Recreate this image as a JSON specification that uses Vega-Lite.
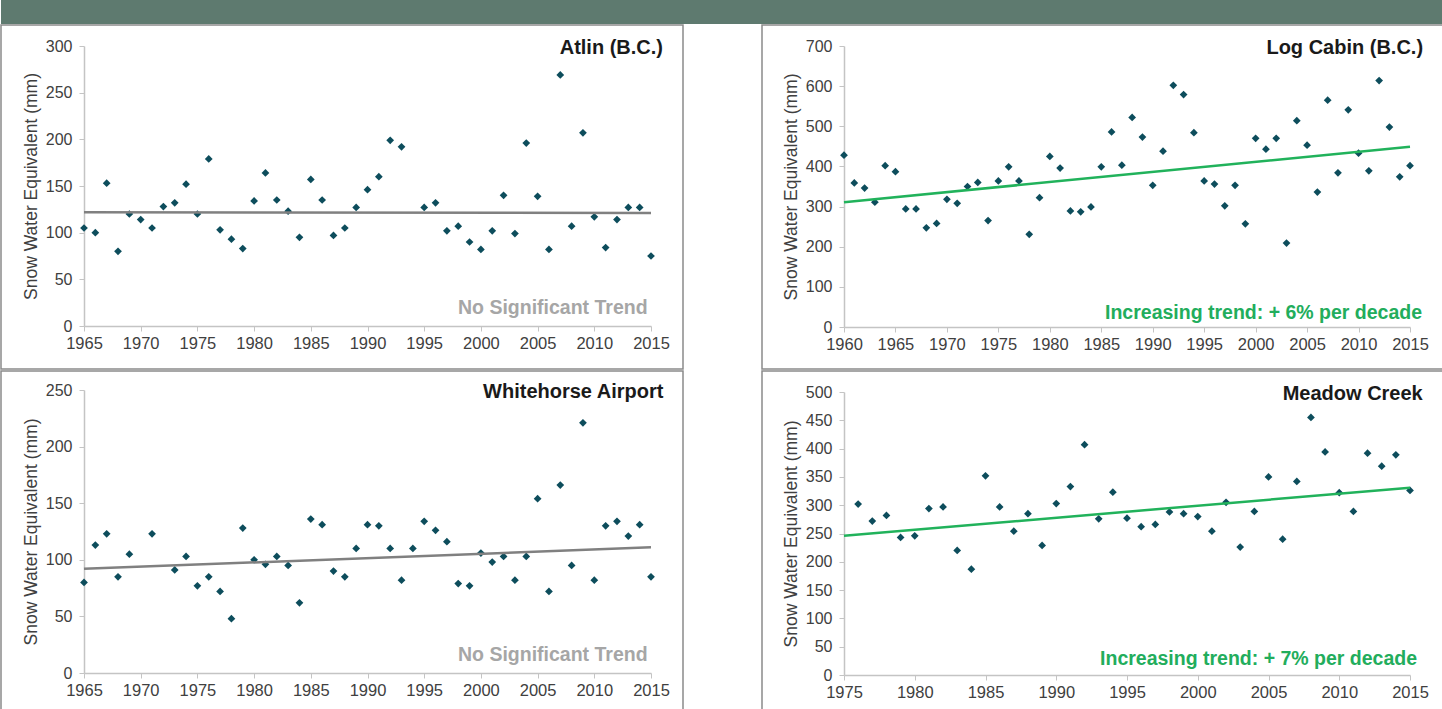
{
  "$schema": "https://vega.github.io/schema/vega-lite/v6.json",
  "padding": 0,
  "background": "white",
  "spacing": 0,
  "config": {
    "view": {"stroke": "#8a8a8a", "strokeWidth": 1.5},
    "font": "Liberation Sans",
    "axis": {
      "grid": false,
      "domainColor": "#c4c4c4",
      "domainWidth": 1.5,
      "tickColor": "#c4c4c4",
      "tickSize": 5,
      "labelFont": "Liberation Sans",
      "labelFontSize": 16.5,
      "labelColor": "#404040",
      "labelFlush": false,
      "labelOverlap": false,
      "labelBound": false,
      "titleFont": "Liberation Sans",
      "titleFontSize": 17.5,
      "titleFontWeight": "normal",
      "titleColor": "#404040"
    },
    "axisX": {"labelPadding": 4},
    "axisY": {"labelPadding": 7, "labelFontSize": 16}
  },
  "datasets": {
    "atlin": [
      {"year":1965,"swe":105},{"year":1966,"swe":100},{"year":1967,"swe":153},{"year":1968,"swe":80},{"year":1969,"swe":120},{"year":1970,"swe":114},{"year":1971,"swe":105},{"year":1972,"swe":128},{"year":1973,"swe":132},{"year":1974,"swe":152},{"year":1975,"swe":120},{"year":1976,"swe":179},{"year":1977,"swe":103},{"year":1978,"swe":93},{"year":1979,"swe":83},{"year":1980,"swe":134},{"year":1981,"swe":164},{"year":1982,"swe":135},{"year":1983,"swe":123},{"year":1984,"swe":95},{"year":1985,"swe":157},{"year":1986,"swe":135},{"year":1987,"swe":97},{"year":1988,"swe":105},{"year":1989,"swe":127},{"year":1990,"swe":146},{"year":1991,"swe":160},{"year":1992,"swe":199},{"year":1993,"swe":192},{"year":1995,"swe":127},{"year":1996,"swe":132},{"year":1997,"swe":102},{"year":1998,"swe":107},{"year":1999,"swe":90},{"year":2000,"swe":82},{"year":2001,"swe":102},{"year":2002,"swe":140},{"year":2003,"swe":99},{"year":2004,"swe":196},{"year":2005,"swe":139},{"year":2006,"swe":82},{"year":2007,"swe":269},{"year":2008,"swe":107},{"year":2009,"swe":207},{"year":2010,"swe":117},{"year":2011,"swe":84},{"year":2012,"swe":114},{"year":2013,"swe":127},{"year":2014,"swe":127},{"year":2015,"swe":75}
    ],
    "atlin_trend": [{"year":1965,"swe":122},{"year":2015,"swe":121}],
    "logcabin": [
      {"year":1960,"swe":428},{"year":1961,"swe":359},{"year":1962,"swe":346},{"year":1963,"swe":311},{"year":1964,"swe":402},{"year":1965,"swe":387},{"year":1966,"swe":294},{"year":1967,"swe":294},{"year":1968,"swe":247},{"year":1969,"swe":258},{"year":1970,"swe":318},{"year":1971,"swe":308},{"year":1972,"swe":350},{"year":1973,"swe":360},{"year":1974,"swe":265},{"year":1975,"swe":364},{"year":1976,"swe":399},{"year":1977,"swe":364},{"year":1978,"swe":231},{"year":1979,"swe":322},{"year":1980,"swe":425},{"year":1981,"swe":396},{"year":1982,"swe":289},{"year":1983,"swe":287},{"year":1984,"swe":299},{"year":1985,"swe":399},{"year":1986,"swe":486},{"year":1987,"swe":403},{"year":1988,"swe":522},{"year":1989,"swe":473},{"year":1990,"swe":353},{"year":1991,"swe":438},{"year":1992,"swe":602},{"year":1993,"swe":579},{"year":1994,"swe":484},{"year":1995,"swe":364},{"year":1996,"swe":356},{"year":1997,"swe":302},{"year":1998,"swe":353},{"year":1999,"swe":257},{"year":2000,"swe":470},{"year":2001,"swe":443},{"year":2002,"swe":470},{"year":2003,"swe":209},{"year":2004,"swe":514},{"year":2005,"swe":453},{"year":2006,"swe":336},{"year":2007,"swe":565},{"year":2008,"swe":384},{"year":2009,"swe":541},{"year":2010,"swe":433},{"year":2011,"swe":389},{"year":2012,"swe":614},{"year":2013,"swe":498},{"year":2014,"swe":374},{"year":2015,"swe":402}
    ],
    "logcabin_trend": [{"year":1960,"swe":311},{"year":2015,"swe":449}],
    "whitehorse": [
      {"year":1965,"swe":80},{"year":1966,"swe":113},{"year":1967,"swe":123},{"year":1968,"swe":85},{"year":1969,"swe":105},{"year":1971,"swe":123},{"year":1973,"swe":91},{"year":1974,"swe":103},{"year":1975,"swe":77},{"year":1976,"swe":85},{"year":1977,"swe":72},{"year":1978,"swe":48},{"year":1979,"swe":128},{"year":1980,"swe":100},{"year":1981,"swe":96},{"year":1982,"swe":103},{"year":1983,"swe":95},{"year":1984,"swe":62},{"year":1985,"swe":136},{"year":1986,"swe":131},{"year":1987,"swe":90},{"year":1988,"swe":85},{"year":1989,"swe":110},{"year":1990,"swe":131},{"year":1991,"swe":130},{"year":1992,"swe":110},{"year":1993,"swe":82},{"year":1994,"swe":110},{"year":1995,"swe":134},{"year":1996,"swe":126},{"year":1997,"swe":116},{"year":1998,"swe":79},{"year":1999,"swe":77},{"year":2000,"swe":106},{"year":2001,"swe":98},{"year":2002,"swe":103},{"year":2003,"swe":82},{"year":2004,"swe":103},{"year":2005,"swe":154},{"year":2006,"swe":72},{"year":2007,"swe":166},{"year":2008,"swe":95},{"year":2009,"swe":221},{"year":2010,"swe":82},{"year":2011,"swe":130},{"year":2012,"swe":134},{"year":2013,"swe":121},{"year":2014,"swe":131},{"year":2015,"swe":85}
    ],
    "whitehorse_trend": [{"year":1965,"swe":92},{"year":2015,"swe":111}],
    "meadow": [
      {"year":1976,"swe":302},{"year":1977,"swe":272},{"year":1978,"swe":282},{"year":1979,"swe":243},{"year":1980,"swe":246},{"year":1981,"swe":294},{"year":1982,"swe":297},{"year":1983,"swe":220},{"year":1984,"swe":187},{"year":1985,"swe":352},{"year":1986,"swe":297},{"year":1987,"swe":254},{"year":1988,"swe":285},{"year":1989,"swe":229},{"year":1990,"swe":303},{"year":1991,"swe":333},{"year":1992,"swe":407},{"year":1993,"swe":276},{"year":1994,"swe":323},{"year":1995,"swe":277},{"year":1996,"swe":262},{"year":1997,"swe":266},{"year":1998,"swe":288},{"year":1999,"swe":285},{"year":2000,"swe":280},{"year":2001,"swe":254},{"year":2002,"swe":305},{"year":2003,"swe":226},{"year":2004,"swe":289},{"year":2005,"swe":350},{"year":2006,"swe":240},{"year":2007,"swe":342},{"year":2008,"swe":455},{"year":2009,"swe":394},{"year":2010,"swe":322},{"year":2011,"swe":289},{"year":2012,"swe":392},{"year":2013,"swe":369},{"year":2014,"swe":389},{"year":2015,"swe":326}
    ],
    "meadow_trend": [{"year":1975,"swe":246},{"year":2015,"swe":331}],
    "header": [{"band":"header"}]
  },
  "vconcat": [
    {
      "width": 1442,
      "height": 24,
      "view": {"fill": "#5e7a6f", "stroke": null},
      "data": {"name": "header"},
      "mark": {"type": "rect", "color": "#5e7a6f"},
      "encoding": {}
    },
    {
      "hconcat": [
        {
          "width": 682,
          "height": 344,
          "layer": [
            {
              "data": {"name": "atlin"},
              "mark": {"type": "point", "shape": "diamond", "filled": true, "size": 60, "color": "#0d4d5c", "opacity": 1},
              "encoding": {
                "x": {"field": "year", "type": "quantitative", "scale": {"domain": [1965, 2015], "range": [83, 650]},
                      "axis": {"values": [1965,1970,1975,1980,1985,1990,1995,2000,2005,2010,2015], "format": "d", "title": null, "offset": -43, "labelOverlap": false}},
                "y": {"field": "swe", "type": "quantitative", "scale": {"domain": [0, 300], "range": [301, 21], "nice": false},
                      "axis": {"values": [0,50,100,150,200,250,300], "title": "Snow Water Equivalent (mm)", "offset": -83, "titlePadding": 5, "labelOverlap": false}}
              }
            },
            {
              "data": {"name": "atlin_trend"},
              "mark": {"type": "line", "color": "#808080", "strokeWidth": 2.5},
              "encoding": {"x": {"field": "year", "type": "quantitative"}, "y": {"field": "swe", "type": "quantitative"}}
            },
            {
              "data": {"name": "header"},
              "mark": {"type": "text", "text": "Atlin (B.C.)", "align": "right", "baseline": "middle", "fontSize": 20, "fontWeight": "bold", "color": "#1a1a1a"},
              "encoding": {"x": {"datum": 2016.06}, "y": {"datum": 298}}
            },
            {
              "data": {"name": "header"},
              "mark": {"type": "text", "text": "No Significant Trend", "align": "right", "baseline": "middle", "fontSize": 19.5, "fontWeight": "bold", "color": "#a6a6a6"},
              "encoding": {"x": {"datum": 2014.7}, "y": {"datum": 19.3}}
            }
          ]
        },
        {
          "width": 681,
          "height": 344,
          "layer": [
            {
              "data": {"name": "logcabin"},
              "mark": {"type": "point", "shape": "diamond", "filled": true, "size": 60, "color": "#0d4d5c", "opacity": 1},
              "encoding": {
                "x": {"field": "year", "type": "quantitative", "scale": {"domain": [1960, 2015], "range": [82, 648]},
                      "axis": {"values": [1960,1965,1970,1975,1980,1985,1990,1995,2000,2005,2010,2015], "format": "d", "title": null, "offset": -42, "labelOverlap": false}},
                "y": {"field": "swe", "type": "quantitative", "scale": {"domain": [0, 700], "range": [302, 21], "nice": false},
                      "axis": {"values": [0,100,200,300,400,500,600,700], "title": "Snow Water Equivalent (mm)", "offset": -82, "titlePadding": 5, "labelOverlap": false}}
              }
            },
            {
              "data": {"name": "logcabin_trend"},
              "mark": {"type": "line", "color": "#21b25b", "strokeWidth": 2.5},
              "encoding": {"x": {"field": "year", "type": "quantitative"}, "y": {"field": "swe", "type": "quantitative"}}
            },
            {
              "data": {"name": "header"},
              "mark": {"type": "text", "text": "Log Cabin (B.C.)", "align": "right", "baseline": "middle", "fontSize": 20, "fontWeight": "bold", "color": "#1a1a1a"},
              "encoding": {"x": {"datum": 2016.27}, "y": {"datum": 695}}
            },
            {
              "data": {"name": "header"},
              "mark": {"type": "text", "text": "Increasing trend: + 6%  per decade", "align": "right", "baseline": "middle", "fontSize": 19.5, "fontWeight": "bold", "color": "#22ad5c"},
              "encoding": {"x": {"datum": 2016.17}, "y": {"datum": 35}}
            }
          ]
        }
      ],
      "spacing": 79,
      "bounds": "flush"
    },
    {
      "hconcat": [
        {
          "width": 682,
          "height": 341,
          "layer": [
            {
              "data": {"name": "whitehorse"},
              "mark": {"type": "point", "shape": "diamond", "filled": true, "size": 60, "color": "#0d4d5c", "opacity": 1},
              "encoding": {
                "x": {"field": "year", "type": "quantitative", "scale": {"domain": [1965, 2015], "range": [83, 650]},
                      "axis": {"values": [1965,1970,1975,1980,1985,1990,1995,2000,2005,2010,2015], "format": "d", "title": null, "offset": -39, "labelOverlap": false}},
                "y": {"field": "swe", "type": "quantitative", "scale": {"domain": [0, 250], "range": [302, 19], "nice": false},
                      "axis": {"values": [0,50,100,150,200,250], "title": "Snow Water Equivalent (mm)", "offset": -83, "titlePadding": 5, "labelOverlap": false}}
              }
            },
            {
              "data": {"name": "whitehorse_trend"},
              "mark": {"type": "line", "color": "#808080", "strokeWidth": 2.5},
              "encoding": {"x": {"field": "year", "type": "quantitative"}, "y": {"field": "swe", "type": "quantitative"}}
            },
            {
              "data": {"name": "header"},
              "mark": {"type": "text", "text": "Whitehorse Airport", "align": "right", "baseline": "middle", "fontSize": 20, "fontWeight": "bold", "color": "#1a1a1a"},
              "encoding": {"x": {"datum": 2016.1}, "y": {"datum": 248}}
            },
            {
              "data": {"name": "header"},
              "mark": {"type": "text", "text": "No Significant Trend", "align": "right", "baseline": "middle", "fontSize": 19.5, "fontWeight": "bold", "color": "#a6a6a6"},
              "encoding": {"x": {"datum": 2014.7}, "y": {"datum": 15.9}}
            }
          ]
        },
        {
          "width": 681,
          "height": 341,
          "layer": [
            {
              "data": {"name": "meadow"},
              "mark": {"type": "point", "shape": "diamond", "filled": true, "size": 60, "color": "#0d4d5c", "opacity": 1},
              "encoding": {
                "x": {"field": "year", "type": "quantitative", "scale": {"domain": [1975, 2015], "range": [82, 648]},
                      "axis": {"values": [1975,1980,1985,1990,1995,2000,2005,2010,2015], "format": "d", "title": null, "offset": -37, "labelOverlap": false}},
                "y": {"field": "swe", "type": "quantitative", "scale": {"domain": [0, 500], "range": [304, 21], "nice": false},
                      "axis": {"tickCount": 10, "title": "Snow Water Equivalent (mm)", "offset": -82, "titlePadding": 5, "labelOverlap": false, "labelSeparation": 0}}
              }
            },
            {
              "data": {"name": "meadow_trend"},
              "mark": {"type": "line", "color": "#21b25b", "strokeWidth": 2.5},
              "encoding": {"x": {"field": "year", "type": "quantitative"}, "y": {"field": "swe", "type": "quantitative"}}
            },
            {
              "data": {"name": "header"},
              "mark": {"type": "text", "text": "Meadow Creek", "align": "right", "baseline": "middle", "fontSize": 20, "fontWeight": "bold", "color": "#1a1a1a"},
              "encoding": {"x": {"datum": 2015.9}, "y": {"datum": 496.5}}
            },
            {
              "data": {"name": "header"},
              "mark": {"type": "text", "text": "Increasing trend: + 7% per decade", "align": "right", "baseline": "middle", "fontSize": 19.5, "fontWeight": "bold", "color": "#22ad5c"},
              "encoding": {"x": {"datum": 2015.5}, "y": {"datum": 28.3}}
            }
          ]
        }
      ],
      "spacing": 79,
      "bounds": "flush"
    }
  ]
}
